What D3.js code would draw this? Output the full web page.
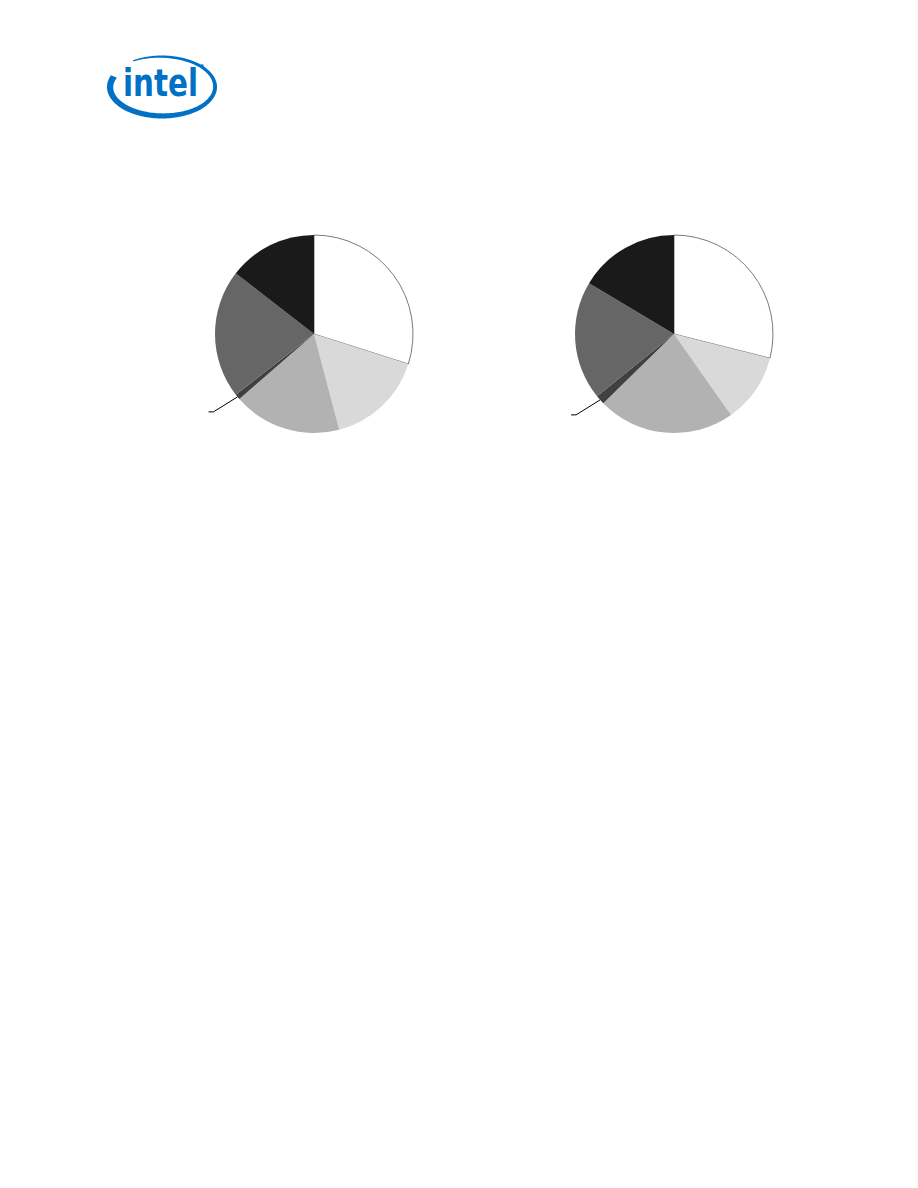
<!DOCTYPE html>
<html>
<head>
<meta charset="utf-8">
<script src="https://cdn.jsdelivr.net/npm/d3@7/dist/d3.min.js"></script>
<style>
html,body{margin:0;padding:0;background:#fff;}
svg{display:block;}
</style>
</head>
<body>
<script>
// ---- data ----
const categories = ["Segment 1", "Segment 2", "Segment 3", "Segment 4", "Segment 5", "Segment 6"];
const leftValues  = [29.9, 16.0, 17.7, 0.9, 21.0, 14.5];
const rightValues = [28.9, 11.3, 22.4, 1.5, 19.4, 16.4];
const sliceColors = ["#ffffff", "#d9d9d9", "#b2b2b2", "#404040", "#666666", "#1a1a1a"];
const calloutIndex = 3;

const W = 918, H = 1188;
const svg = d3.select("body").append("svg").attr("width", W).attr("height", H);

// ---- Intel logo ----
const logo = svg.append("g").attr("class", "logo");
const blue = "#0071c5";
(function drawSwoosh() {
  const cx = 162, cy = 87, rx = 55, ry = 31.5;
  const a0 = 238, a1 = 563;
  const outer = [], inner = [];
  for (let a = a0; a <= a1; a += 2) {
    const t = a * Math.PI / 180;
    const f = (a - a0) / (a1 - a0);
    const th = 1.2 + 5.3 * Math.pow(f, 0.7);
    const ox = cx + rx * Math.cos(t), oy = cy + ry * Math.sin(t);
    const ix = cx + (rx - th) * Math.cos(t), iy = cy + (ry - th) * Math.sin(t);
    outer.push([ox, oy]); inner.push([ix, iy]);
  }
  const pts = outer.concat(inner.reverse());
  logo.append("path").attr("d", d3.line()(pts) + "Z").attr("fill", blue);
})();
logo.append("text")
  .attr("x", 123).attr("y", 95.5)
  .attr("textLength", 75).attr("lengthAdjust", "spacingAndGlyphs")
  .attr("font-family", "DejaVu Sans").attr("font-weight", "bold")
  .attr("font-size", 37).attr("fill", blue)
  .text("intel");
logo.append("circle").attr("cx", 202).attr("cy", 66).attr("r", 1.8).attr("fill", blue);

// ---- pies ----
const radius = 99;
const pie = d3.pie().sort(null).value(d => d);
const arc = d3.arc().innerRadius(0).outerRadius(radius);
const color = d3.scaleOrdinal().domain(categories).range(sliceColors);

function drawPie(values, cx, cy) {
  const g = svg.append("g").attr("transform", `translate(${cx},${cy})`);
  const arcs = pie(values);
  g.selectAll("path.slice").data(arcs).enter().append("path")
    .attr("class", "slice")
    .attr("d", arc)
    .attr("fill", (d, i) => color(categories[i]))
    .attr("stroke", (d, i) => i === 0 ? "#7a7a7a" : "none")
    .attr("stroke-width", 1);
  // leader line for the thin slice
  const d = arcs[calloutIndex];
  const mid = (d.startAngle + d.endAngle) / 2;
  const p0 = [Math.sin(mid) * radius, -Math.cos(mid) * radius];
  const p1 = [p0[0] - 24, p0[1] + 15];
  const p2 = [p1[0] - 5, p1[1]];
  g.append("path")
    .attr("d", d3.line()([p0, p1, p2]))
    .attr("fill", "none").attr("stroke", "#000").attr("stroke-width", 1);
}

drawPie(leftValues, 314, 334);
drawPie(rightValues, 674, 334);
</script>
</body>
</html>
